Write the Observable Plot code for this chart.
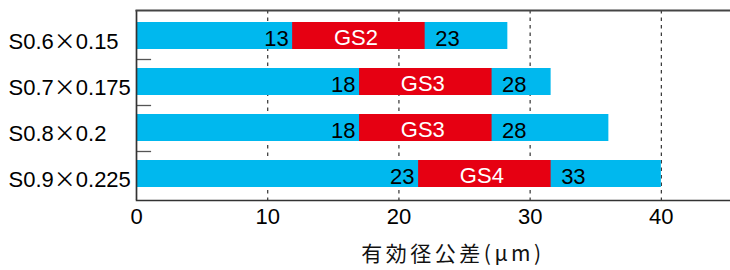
<!DOCTYPE html>
<html>
<head>
<meta charset="utf-8">
<script src="https://cdn.jsdelivr.net/npm/d3@7"></script>
<script src="https://cdn.jsdelivr.net/npm/@observablehq/plot@0.6"></script>
<style>
  html, body { margin: 0; padding: 0; background: #fff; overflow: hidden; }
  svg { display: block; }
</style>
</head>
<body>
<div id="chart"></div>
<script>
// ---- data ----
const categories = ["S0.6×0.15", "S0.7×0.175", "S0.8×0.2", "S0.9×0.225"];
const grades     = ["GS2", "GS3", "GS3", "GS4"];
const lowerLabel = ["13", "18", "18", "23"];
const upperLabel = ["23", "28", "28", "33"];
const redStart   = [11.9, 17.0, 17.0, 21.5];
const redEnd     = [22.0, 27.1, 27.1, 31.6];
const barEnd     = [28.3, 31.6, 36.0, 40.0];
const xTicks     = [0, 10, 20, 30, 40];
const gridTicks  = [10, 20, 30, 40];
const xTitle     = "有効径公差(μm)";

const rows = categories.map((c, i) => ({
  cat: c, grade: grades[i], lo: lowerLabel[i], hi: upperLabel[i],
  r1: redStart[i], r2: redEnd[i], end: barEnd[i]
}));

const BLUE = "#00b8ee";
const RED = "#e60012";
const FONT = "'Liberation Sans', Arial, Helvetica, sans-serif";

const chart = Plot.plot({
  width: 730,
  height: 270,
  marginLeft: 136,
  marginRight: 0,
  marginTop: 10,
  marginBottom: 70,
  style: { fontFamily: FONT, fontSize: "22px", color: "#111", background: "#fff" },
  x: { domain: [0, 45.27], ticks: xTicks },
  y: { domain: categories, range: [20, 188.7], paddingInner: 0.41, paddingOuter: 0, align: 0.5, axis: null },
  marks: [
    Plot.ruleX(gridTicks, { stroke: "#333", strokeWidth: 1.2, strokeDasharray: "3.5,4" }),
    Plot.ruleY(categories.slice(0, 3), { y: d => d, x1: 0, x2: 1.15, dy: 23.5, stroke: "#555", strokeWidth: 1.3 }),
    Plot.barX(rows, { y: "cat", x1: 0, x2: "end", fill: BLUE }),
    Plot.barX(rows, { y: "cat", x1: "r1", x2: "r2", fill: RED }),
    Plot.text(rows, { y: "cat", x: "r1", text: "lo", textAnchor: "end", dx: -4, dy: 3, fill: "#000", fontSize: 22 }),
    Plot.text(rows, { y: "cat", x: "r2", text: "hi", textAnchor: "start", dx: 10, dy: 3, fill: "#000", fontSize: 22 }),
    Plot.text(rows, { y: "cat", x: d => (d.r1 + d.r2) / 2, text: "grade", dx: -3, dy: 2, fill: "#fff", fontSize: 22 }),
    Plot.text(rows, { y: "cat", text: "cat", frameAnchor: "left", textAnchor: "start", dx: -128, dy: 5.5, fill: "#000", fontSize: 22, className: "ylab" }),
    Plot.axisX({ ticks: xTicks, tickSize: 0, tickPadding: 8, fontSize: 22, label: null, fill: "#000" }),
    Plot.text([xTitle], { frameAnchor: "bottom", dx: 19.5, dy: 60, fontSize: 21, fontFamily: "'Noto Sans CJK JP', sans-serif", fill: "#111", className: "xtitle" }),
    Plot.ruleX([0], { stroke: "#333", strokeWidth: 1.7 }),
    Plot.frame({ anchor: "top", stroke: "#444", strokeWidth: 2 }),
    Plot.frame({ anchor: "bottom", stroke: "#333", strokeWidth: 1.5 })
  ]
});

// full-width multiplication sign, as in the reference
d3.select(chart).selectAll("g.ylab text").each(function () {
  const t = this.textContent;
  if (!t.includes("×")) return;
  const [a, b] = t.split("×");
  const sel = d3.select(this);
  sel.text(null);
  sel.append("tspan").text(a);
  sel.append("tspan").attr("font-family", "'Noto Sans CJK JP', sans-serif").text("×");
  sel.append("tspan").text(b);
});
// wider tracking of the axis title
d3.select(chart).selectAll("g.xtitle text").attr("letter-spacing", "3.5px").style("letter-spacing", "3.5px");

document.getElementById("chart").appendChild(chart);
</script>
</body>
</html>
